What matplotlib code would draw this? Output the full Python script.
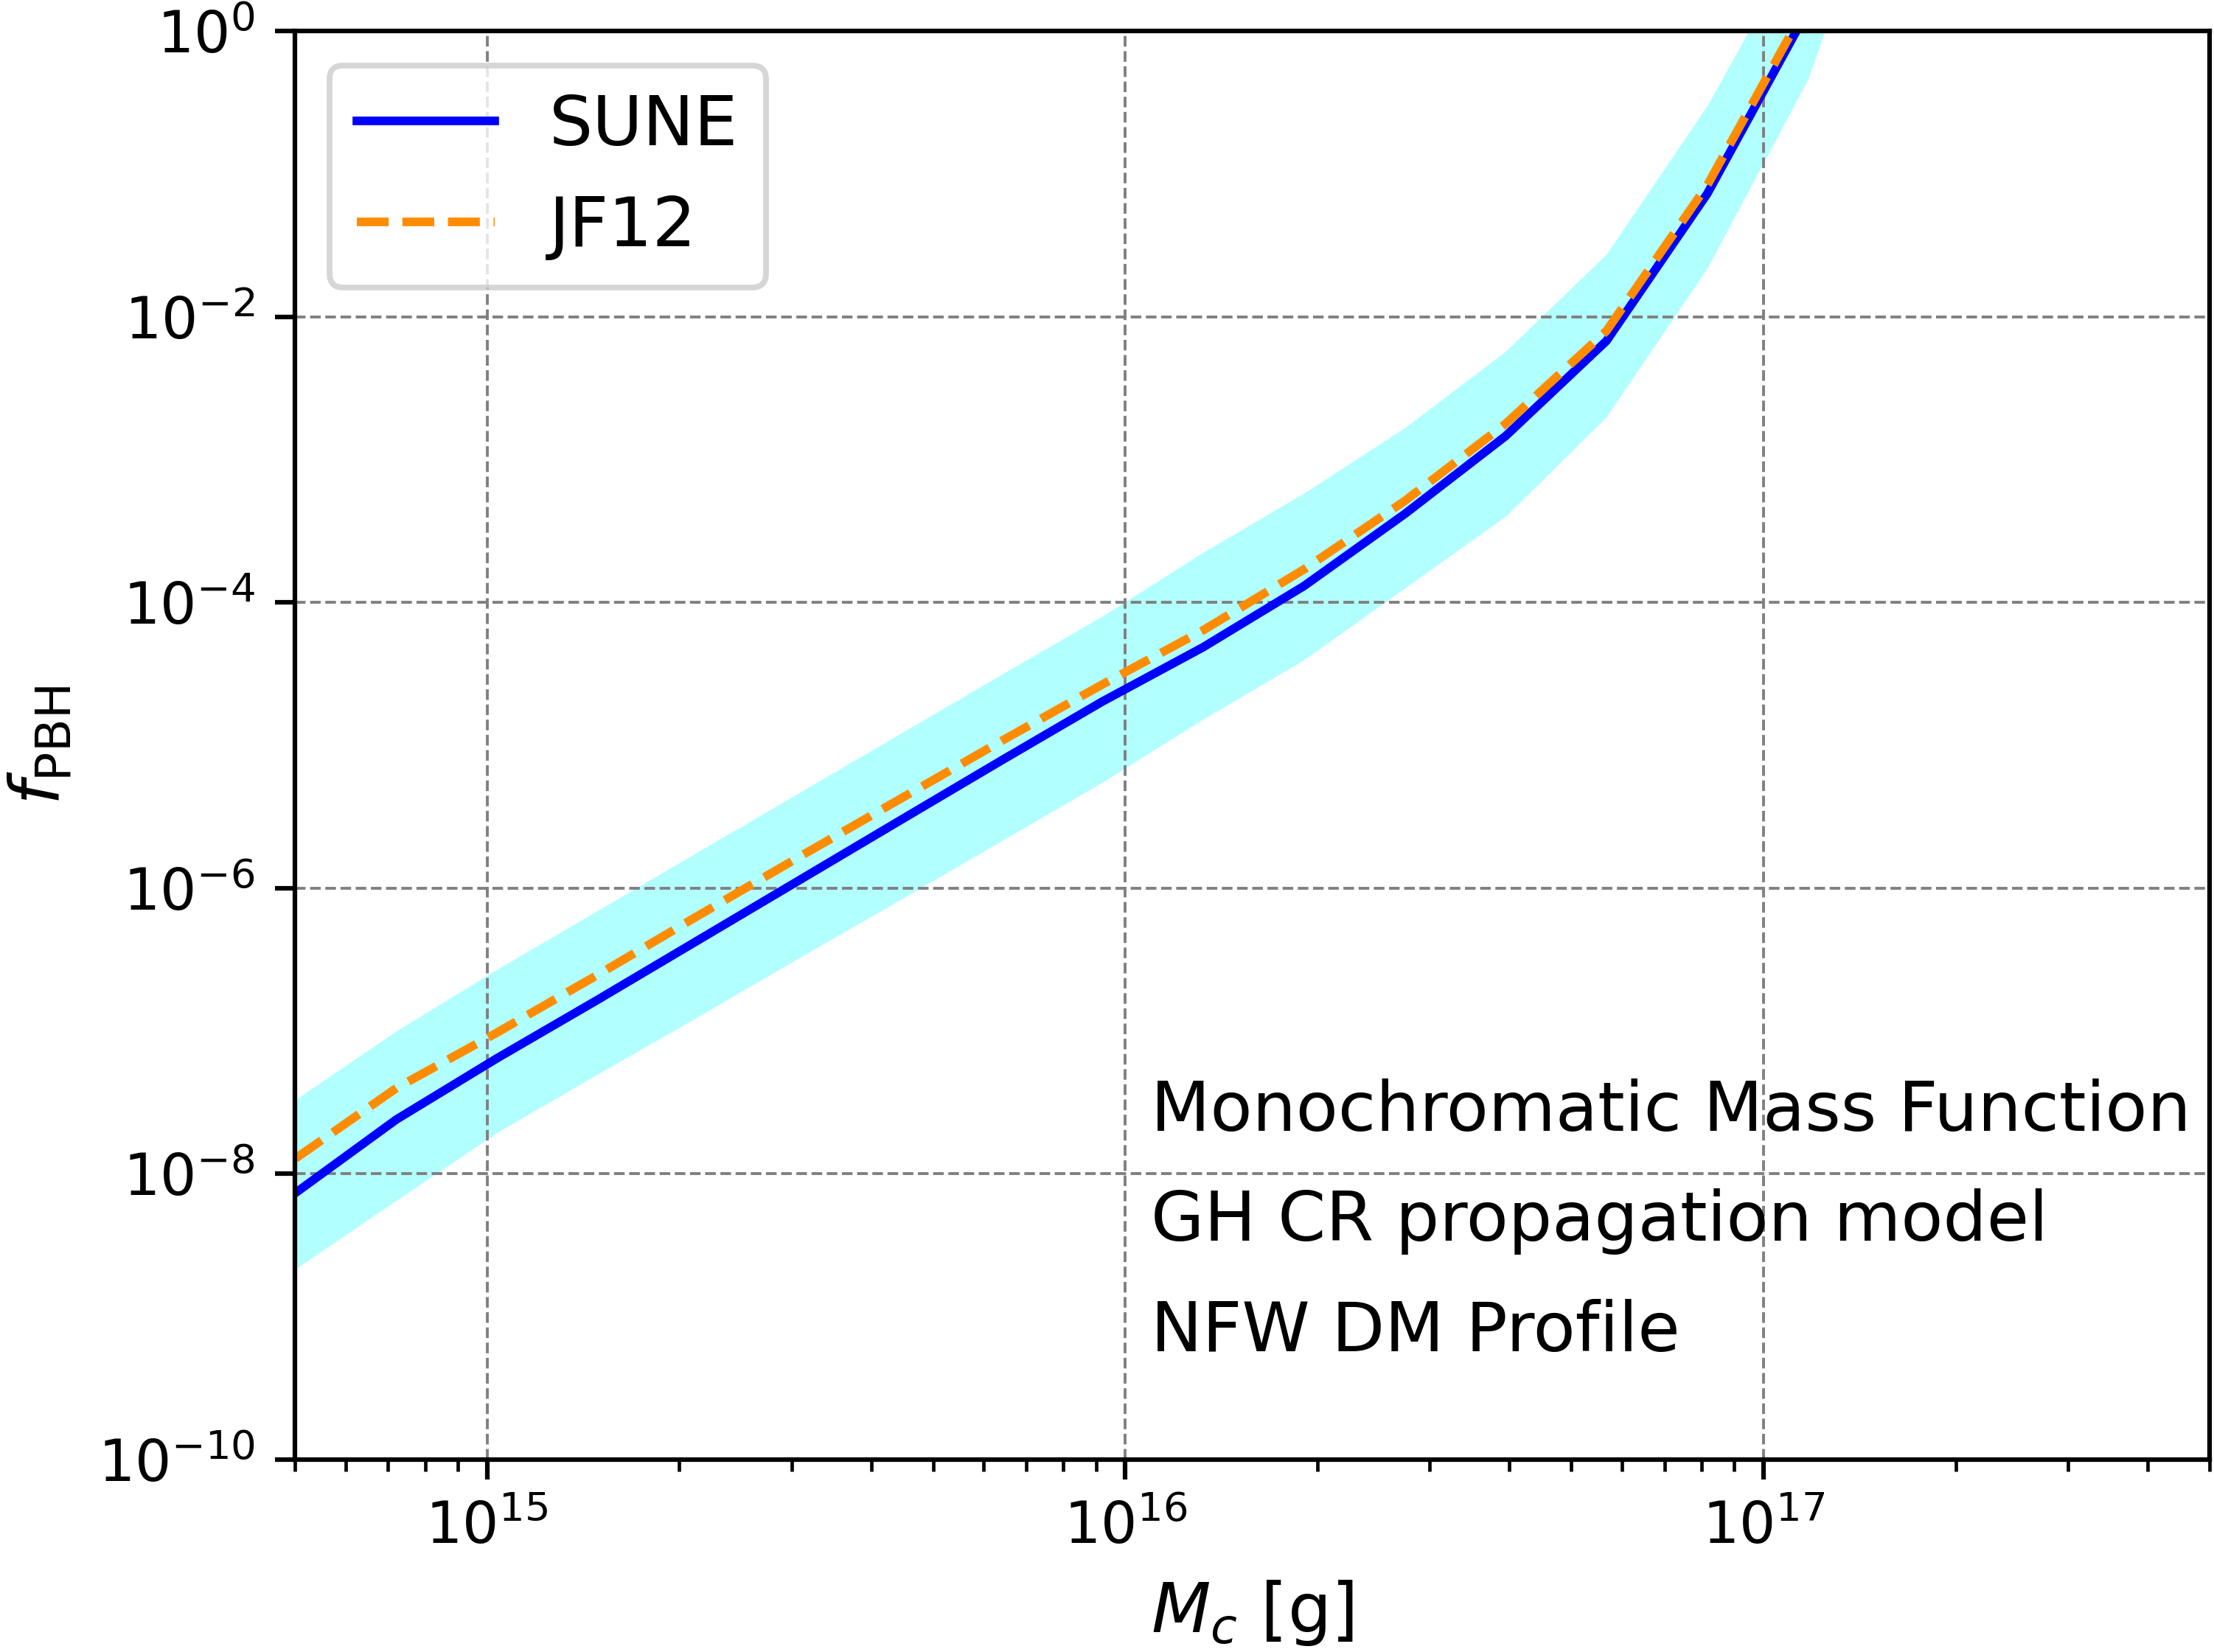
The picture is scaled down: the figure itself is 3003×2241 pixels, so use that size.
import matplotlib
matplotlib.use("Agg")
import matplotlib.pyplot as plt
from matplotlib.ticker import NullLocator

# characteristic mass [g]
mass = [5.01e14, 7.21e14, 1.038e15, 1.493e15, 2.148e15, 3.09e15, 4.446e15, 6.397e15,
        9.204e15, 1.324e16, 1.905e16, 2.742e16, 3.945e16, 5.675e16, 8.166e16, 1.175e17, 1.69e17]

# f_PBH limits
f_sune = [7.35e-9, 2.40e-8, 6.46e-8, 1.66e-7, 4.35e-7, 1.14e-6, 2.99e-6, 7.82e-6,
          2.02e-5, 4.85e-5, 1.30e-4, 4.16e-4, 1.46e-3, 6.76e-3, 7.26e-2, 1.41, 63.0]
f_jf12 = [1.28e-8, 3.98e-8, 9.77e-8, 2.48e-7, 6.46e-7, 1.66e-6, 4.22e-6, 1.07e-5,
          2.66e-5, 6.37e-5, 1.70e-4, 5.13e-4, 1.78e-3, 7.94e-3, 8.32e-2, 1.58, 70.0]

# uncertainty band
f_upper = [3.31e-8, 1.0e-7, 2.71e-7, 7.0e-7, 1.81e-6, 4.68e-6, 1.21e-5, 3.13e-5,
           8.0e-5, 2.24e-4, 5.82e-4, 1.67e-3, 5.73e-3, 2.74e-2, 0.301, 5.6, 316.0]
f_lower = [2.16e-9, 6.52e-9, 1.95e-8, 5.01e-8, 1.27e-7, 3.27e-7, 8.32e-7, 2.14e-6,
           5.50e-6, 1.52e-5, 3.96e-5, 1.26e-4, 4.01e-4, 1.99e-3, 2.19e-2, 0.462, 50.0]

yticks = [1e-10, 1e-8, 1e-6, 1e-4, 1e-2, 1e0]
notes = ["Monochromatic Mass Function", "GH CR propagation model", "NFW DM Profile"]

dpi = 560
fig = plt.figure(figsize=(3003 / dpi, 2241 / dpi), dpi=dpi)
ax = fig.add_axes([0.1332, 0.1165, 0.8648, 0.8648])

ax.fill_between(mass, f_lower, f_upper, color="cyan", alpha=0.3, linewidth=0)
ax.plot(mass, f_sune, color="blue", lw=1.5, label="SUNE")
ax.plot(mass, f_jf12, color="darkorange", lw=1.5, ls="--", label="JF12")

ax.set_xscale("log")
ax.set_yscale("log")
ax.set_xlim(5e14, 5e17)
ax.set_ylim(1e-10, 1)
ax.set_yticks(yticks)
ax.yaxis.set_minor_locator(NullLocator())

ax.grid(True, which="major", ls="--", lw=0.5, color="gray")

ax.set_xlabel(r"$M_c$ [g]", fontsize=12)
ax.set_ylabel(r"$f_{\rm PBH}$", fontsize=12)

ax.legend(loc="upper left", fontsize=12)

for i, t in enumerate(notes):
    ax.text(0.447, 0.23 - i * 0.077, t, transform=ax.transAxes, fontsize=12)

fig.savefig("out.png", dpi=dpi)
